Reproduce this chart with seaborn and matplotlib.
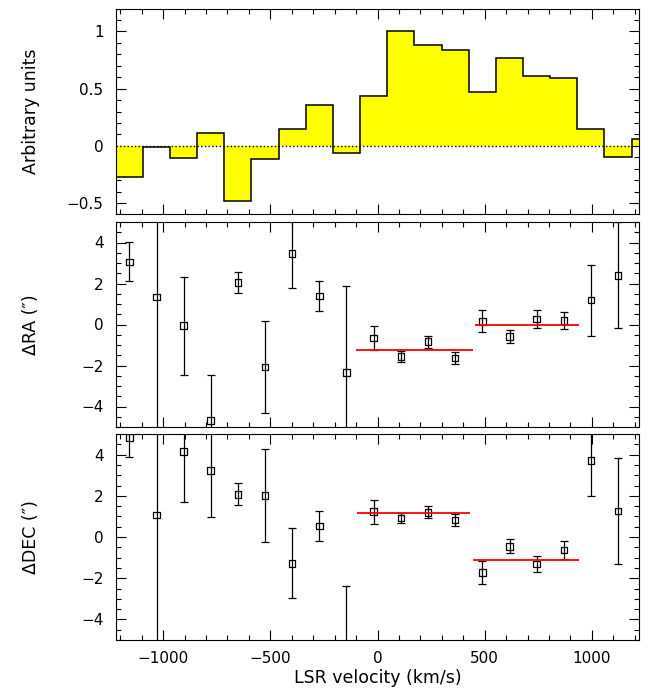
import numpy as np
import matplotlib
matplotlib.use("Agg")
import matplotlib.pyplot as plt
from matplotlib.ticker import MultipleLocator
import seaborn as sns

# channel edges (km/s) and normalised line flux for the top spectrum
bin_edges = [-1221, -1095, -968, -841, -714, -588, -461, -334, -208, -81,
             46, 172, 299, 426, 552, 679, 806, 933, 1059, 1186, 1313]
flux = [-0.27, -0.012, -0.105, 0.114, -0.48, -0.114, 0.146, 0.354, -0.058, 0.436,
        1.003, 0.88, 0.836, 0.468, 0.766, 0.608, 0.59, 0.149, -0.096, 0.064]

# channel centres for the position offsets
vel = [-1158, -1031, -905, -778, -651, -525, -398, -271, -145, -18,
       109, 236, 362, 489, 616, 742, 869, 996, 1122]

ra_off = [3.06, 1.35, -0.06, -4.68, 2.05, -2.08, 3.47, 1.40, -2.34, -0.66,
          -1.55, -0.84, -1.63, 0.15, -0.58, 0.26, 0.19, 1.19, 2.40]
ra_err = [0.96, 7.0, 2.40, 2.21, 0.53, 2.24, 1.71, 0.72, 4.23, 0.58,
          0.26, 0.30, 0.31, 0.54, 0.33, 0.43, 0.43, 1.73, 2.58]

dec_off = [4.83, 1.07, 4.15, 3.22, 2.07, 2.02, -1.28, 0.53, -7.0, 1.23,
           0.92, 1.20, 0.83, -1.72, -0.45, -1.31, -0.63, 3.71, 1.26]
dec_err = [0.96, 7.0, 2.43, 2.23, 0.54, 2.25, 1.70, 0.72, 4.6, 0.58,
           0.25, 0.29, 0.30, 0.55, 0.33, 0.41, 0.43, 1.72, 2.57]

# mean offsets of the two velocity groups: (v from, v to, level)
ra_fits = [(-100, 444, -1.26), (453, 941, -0.03)]
dec_fits = [(-95, 431, 1.15), (444, 941, -1.12)]

sns.set_theme(style="ticks")
plt.rcParams["font.family"] = ["DejaVu Sans"]
plt.rcParams["axes.linewidth"] = 0.8
plt.rcParams["text.color"] = "black"
plt.rcParams["axes.labelcolor"] = "black"
plt.rcParams["xtick.labelcolor"] = "black"
plt.rcParams["ytick.labelcolor"] = "black"

fig = plt.figure(figsize=(6.59, 6.90), dpi=100)
left, width = 116 / 659, 523 / 659
ax_top = fig.add_axes([left, 1 - 214 / 690, width, 205 / 690])
ax_ra = fig.add_axes([left, 1 - 427 / 690, width, 205 / 690])
ax_dec = fig.add_axes([left, 1 - 640 / 690, width, 206 / 690])

# spectrum: yellow fill from zero, black step outline, dotted zero line
ax_top.stairs(flux, bin_edges, baseline=0, fill=True, color="yellow",
              linewidth=0, zorder=1)
ax_top.stairs(flux, bin_edges, color="black", linewidth=1.1, baseline=None, zorder=3)
ax_top.axhline(0, color="black", linestyle=":", linewidth=1.0, zorder=4)
ax_top.set_ylim(-0.595, 1.195)
ax_top.yaxis.set_minor_locator(MultipleLocator(0.1))
ax_top.set_yticks([-0.5, 0, 0.5, 1])
ax_top.set_yticklabels(["\u22120.5", "0", "0.5", "1"])
ax_top.set_ylabel("Arbitrary units", fontsize=12.5)


def offsets_panel(ax, off, err, fits, label):
    ax.errorbar(vel, off, yerr=err, fmt="none", ecolor="black",
                elinewidth=0.9, capsize=3.2, capthick=0.9, zorder=2)
    sns.scatterplot(x=vel, y=off, marker="s", s=22, facecolor="none",
                    edgecolor="black", linewidth=0.9, ax=ax, zorder=3)
    for v0, v1, lev in fits:
        ax.hlines(lev, v0, v1, color="red", linewidth=1.3, zorder=4)
    ax.set_ylim(-5, 5)
    ax.set_yticks([-4, -2, 0, 2, 4])
    ax.set_yticklabels(["\u22124", "\u22122", "0", "2", "4"])
    ax.yaxis.set_minor_locator(MultipleLocator(0.5))
    ax.set_ylabel(label, fontsize=12.5)


offsets_panel(ax_ra, ra_off, ra_err, ra_fits, "\u0394RA (\u2033)")
offsets_panel(ax_dec, dec_off, dec_err, dec_fits, "\u0394DEC (\u2033)")

for ax in (ax_top, ax_ra, ax_dec):
    ax.set_xlim(-1220, 1220)
    ax.set_xticks([-1000, -500, 0, 500, 1000])
    ax.xaxis.set_minor_locator(MultipleLocator(100))
    ax.tick_params(which="both", direction="in", top=True, right=True,
                   width=0.8, color="black", labelcolor="black", labelsize=11)
    ax.tick_params(which="major", length=7.2)
    ax.tick_params(which="minor", length=3.6)
    ax.tick_params(axis="y", pad=9)
    ax.yaxis.set_label_coords(-0.145, 0.5)
    for sp in ax.spines.values():
        sp.set_color("black")
    if ax is not ax_dec:
        ax.tick_params(labelbottom=False)
        ax.set_xlabel("")

ax_dec.set_xticklabels(["\u22121000", "\u2212500", "0", "500", "1000"])
ax_dec.tick_params(axis="x", pad=8)
ax_dec.set_xlabel("LSR velocity (km/s)", fontsize=12.5, labelpad=2)

fig.savefig("out.png", dpi=100)
